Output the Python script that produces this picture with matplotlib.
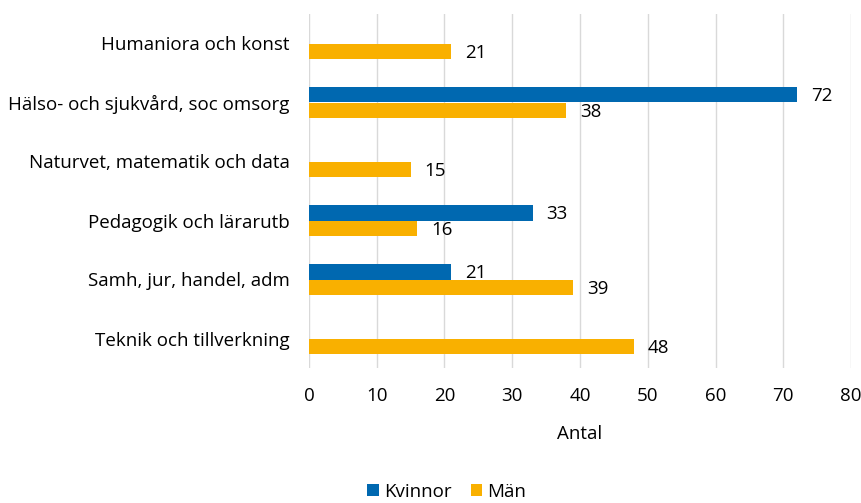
import matplotlib
matplotlib.use("Agg")
import matplotlib.pyplot as plt
import numpy as np

categories = ["Humaniora och konst", "Hälso- och sjukvård, soc omsorg",
              "Naturvet, matematik och data", "Pedagogik och lärarutb",
              "Samh, jur, handel, adm", "Teknik och tillverkning"]
kvinnor = [np.nan, 72, np.nan, 33, 21, np.nan]
man = [21, 38, 15, 16, 39, 48]
xticks = [0, 10, 20, 30, 40, 50, 60, 70, 80]

plt.rcParams['font.family'] = ['Open Sans', 'DejaVu Sans']
blue = "#0068B0"
orange = "#F9B000"
fs = 13.5

fig = plt.figure(figsize=(8.62, 5.03), dpi=100)
ax = fig.add_axes([309/862, 1-368/503, (851-309)/862, (368-14)/503])

y = np.arange(len(categories))
h = 0.26
bk = ax.barh(y - h/2, kvinnor, height=h, color=blue, label="Kvinnor")
bm = ax.barh(y + h/2, man, height=h, color=orange, label="Män")

for bars, vals in ((bk, kvinnor), (bm, man)):
    for b, v in zip(bars, vals):
        if np.isnan(v):
            continue
        ax.annotate(f"{int(v)}", (v, b.get_y() + b.get_height()/2),
                    xytext=(10, -1), textcoords="offset points",
                    ha="left", va="center", fontsize=fs, color="#000000")

ax.set_xlim(0, 80)
ax.set_ylim(len(categories) - 0.5, -0.5)
ax.set_xticks(xticks)
ax.set_yticks(y)
ax.set_yticklabels(categories)
ax.tick_params(axis="both", length=0, labelsize=fs, colors="#000000")
ax.tick_params(axis="y", pad=14)
ax.tick_params(axis="x", pad=14)
for s in ax.spines.values():
    s.set_visible(False)
ax.grid(axis="x", color="#D9D9D9", linewidth=1)
ax.set_axisbelow(True)
ax.set_xlabel("Antal", fontsize=fs, labelpad=14)

fig.legend(handles=[bk, bm], labels=["Kvinnor", "Män"], loc="center",
           bbox_to_anchor=(0.5 + 16/862, 1-492/503), ncol=2, frameon=False,
           fontsize=fs, handlelength=0.6, handleheight=0.6,
           handletextpad=0.3, columnspacing=1.0)

fig.savefig("out.png", dpi=100)
